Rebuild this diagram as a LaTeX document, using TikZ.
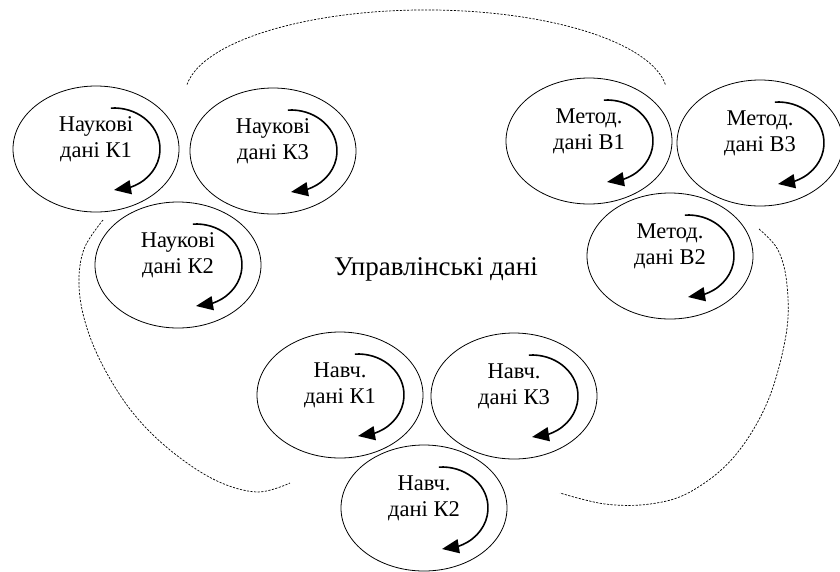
\documentclass[tikz,border=0pt]{standalone}
\usepackage{fontspec}
\setmainfont{Liberation Serif}
\usetikzlibrary{shapes.geometric,arrows.meta,bending}

% circular arrow inside a data ellipse, drawn relative to its centre
\newcommand\cyclearrow[1]{%
  \draw[cyc] ([shift={(14.8,-40.9)}]#1.center)
    arc[start angle=-94, end angle=90, x radius=46, y radius=41];}

\begin{document}
\begin{tikzpicture}[x=1pt,y=-1pt,
  dataset/.style={draw, ellipse, line width=0.8pt, minimum width=166pt,
                  minimum height=126pt, inner sep=0pt},
  lbl/.style={align=center, font=\fontsize{22.5}{26}\selectfont, inner sep=0pt},
  cyc/.style={line width=1.6pt, -{Triangle[length=17pt,width=14pt]}},
  group/.style={line width=0.7pt, dash pattern=on 2.2pt off 1.4pt}]
\useasboundingbox (0,0) rectangle (840,571);
\fill[white] (0,0) rectangle (840,571);

% scientific data
\node[dataset] (nk1) at (96,149) {};
\node[dataset] (nk3) at (273,151) {};
\node[dataset] (nk2) at (178,265) {};
% methodical data
\node[dataset] (mv1) at (589,141) {};
\node[dataset] (mv3) at (760,143) {};
\node[dataset] (mv2) at (670,256) {};
% educational data
\node[dataset] (nv1) at (340,395) {};
\node[dataset] (nv3) at (514,396) {};
\node[dataset] (nv2) at (424,508) {};

\node[lbl] (nk1t) at ([yshift=10pt]nk1.center) {Наукові\\дані К1};
\node[lbl] (nk3t) at ([yshift=10pt]nk3.center) {Наукові\\дані К3};
\node[lbl] (nk2t) at ([yshift=10pt]nk2.center) {Наукові\\дані К2};
\node[lbl] (mv1t) at ([yshift=10pt]mv1.center) {Метод.\\дані В1};
\node[lbl] (mv3t) at ([yshift=10pt]mv3.center) {Метод.\\дані В3};
\node[lbl] (mv2t) at ([yshift=10pt]mv2.center) {Метод.\\дані В2};
\node[lbl] (nv1t) at ([yshift=10pt]nv1.center) {Навч.\\дані К1};
\node[lbl] (nv3t) at ([yshift=10pt]nv3.center) {Навч.\\дані К3};
\node[lbl] (nv2t) at ([yshift=10pt]nv2.center) {Навч.\\дані К2};

\foreach \n in {nk1,nk3,nk2,mv1,mv3,mv2,nv1,nv3,nv2} {\cyclearrow{\n}}

% management data in the middle
\node[font=\fontsize{27}{32}\selectfont, anchor=base, inner sep=0pt] (mgmt)
  at (436,275) {Управлінські дані};

% dotted group outlines
\draw[group] (187,84.6) arc[start angle=-173, end angle=-7, x radius=241, y radius=85];
\draw[group] plot[smooth, tension=0.6] coordinates
  {(103,220) (84,249) (79,285) (86,325) (104,368) (133,413) (170,450) (215,480) (257,492) (290,483)};
\draw[group] plot[smooth, tension=0.6] coordinates
  {(759,229) (778,250) (787,285) (786,335) (767,403) (733,458) (690,492) (650,504) (605,504) (560,493)};
\end{tikzpicture}
\end{document}
